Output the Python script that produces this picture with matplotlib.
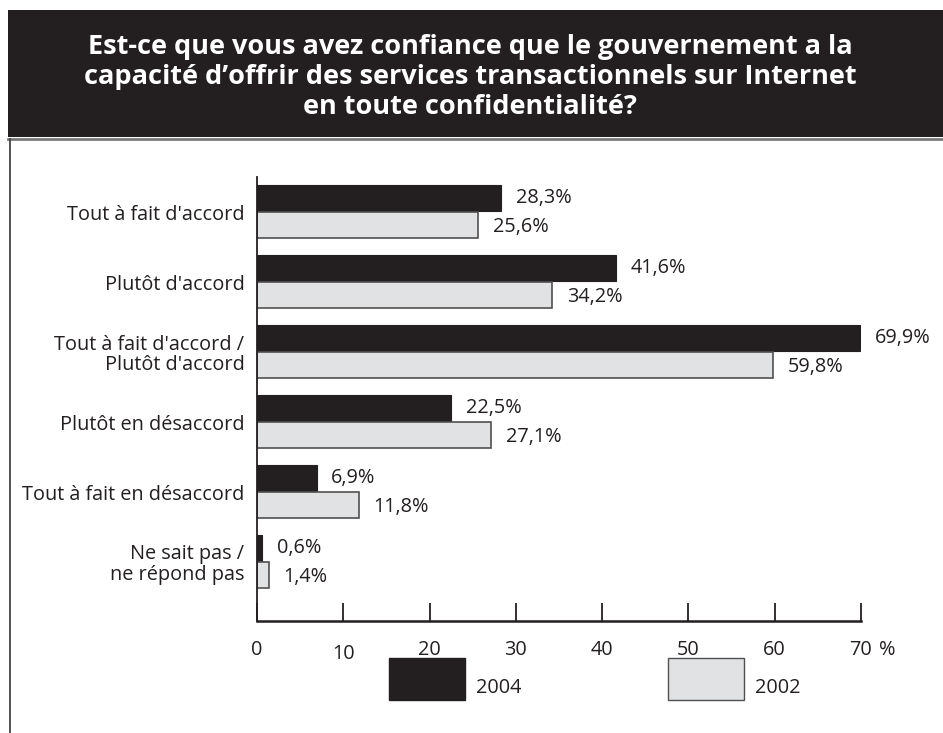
import numpy as np
import matplotlib.pyplot as plt
from matplotlib.patches import Rectangle
from matplotlib.lines import Line2D
import matplotlib.transforms as mtransforms

plt.rcParams['font.family'] = ['Open Sans', 'DejaVu Sans']

categories = ["Tout à fait d'accord", "Plutôt d'accord",
              "Tout à fait d'accord /\nPlutôt d'accord", "Plutôt en désaccord",
              "Tout à fait en désaccord", "Ne sait pas /\nne répond pas"]
values_2004 = [28.3, 41.6, 69.9, 22.5, 6.9, 0.6]
values_2002 = [25.6, 34.2, 59.8, 27.1, 11.8, 1.4]
years = ["2004", "2002"]
xticks = [0, 10, 20, 30, 40, 50, 60, 70]

title = ("Est-ce que vous avez confiance que le gouvernement a la\n"
         "capacité d’offrir des services transactionnels sur Internet\n"
         "en toute confidentialité?")

dark = '#231f20'
light = '#e1e2e4'
edge = '#505050'
fs = 14.3

W, H = 943, 733
fig = plt.figure(figsize=(W / 100, H / 100), dpi=100)

# title banner
fig.patches.append(Rectangle((8 / W, 1 - 137 / H), 1, 127 / H, transform=fig.transFigure,
                             facecolor=dark, edgecolor='none', zorder=0))
fig.lines.append(Line2D([8 / W, 1], [1 - 138.5 / H] * 2, transform=fig.transFigure,
                        color='#7a7a7a', lw=2))
fig.lines.append(Line2D([10 / W, 10 / W], [0, 1 - 139 / H], transform=fig.transFigure,
                        color='#444444', lw=1.3))
fig.text(470 / W, 1 - 77 / H, title, color='white', fontsize=19.5, fontweight='bold',
         ha='center', va='center', linespacing=1.2)

ax = fig.add_axes([257 / W, 1 - 621 / H, (861 - 257) / W, (621 - 177) / H])
y = np.arange(len(categories))
h = 0.37
ax.barh(y - 0.2, values_2004, height=h, color=dark, edgecolor=dark, lw=0.8)
ax.barh(y + 0.19, values_2002, height=h, color=light, edgecolor=edge, lw=1.2)

for yi, v in zip(y, values_2004):
    ax.text(v + 1.7, yi - 0.2, f"{v:.1f}%".replace('.', ','), va='center', ha='left',
            fontsize=fs, color=dark)
for yi, v in zip(y, values_2002):
    ax.text(v + 1.7, yi + 0.21, f"{v:.1f}%".replace('.', ','), va='center', ha='left',
            fontsize=fs, color=dark)

ax.set_xlim(0, 70)
ax.set_ylim(-0.5 + 444 / 70, -0.5)
ax.set_yticks(y)
ax.set_yticklabels(categories, fontsize=fs, color=dark, linespacing=1.05)
ax.tick_params(axis='y', length=0, pad=9)
ax.set_xticks(xticks)
ax.set_xticklabels([str(t) for t in xticks], fontsize=fs, color=dark)
ax.tick_params(axis='x', direction='in', length=13, width=1.3, color=dark, pad=-0.5)
for lbl in ax.get_xticklabels():
    lbl.set_y(-0.045)
ax.get_xticklabels()[1].set_transform(ax.get_xticklabels()[1].get_transform() +
                                      mtransforms.ScaledTranslation(0, -4 / 100, fig.dpi_scale_trans))
for s in ['top', 'right']:
    ax.spines[s].set_visible(False)
ax.spines['left'].set_color(dark)
ax.spines['bottom'].set_color(dark)
ax.spines['left'].set_linewidth(1.3)
ax.spines['bottom'].set_linewidth(1.8)
fig.text(887 / W, 1 - 650 / H, '%', fontsize=fs, color=dark, ha='center', va='center')

# legend
for x0, col, ec, lab in [(389, dark, dark, years[0]), (668, light, edge, years[1])]:
    fig.patches.append(Rectangle((x0 / W, 1 - 700 / H), 76 / W, 42 / H,
                                 transform=fig.transFigure, facecolor=col, edgecolor=ec, lw=1))
    fig.text((x0 + 87) / W, 1 - 688 / H, lab, fontsize=fs, color=dark, ha='left', va='center')

fig.savefig('out.png', dpi=100)
